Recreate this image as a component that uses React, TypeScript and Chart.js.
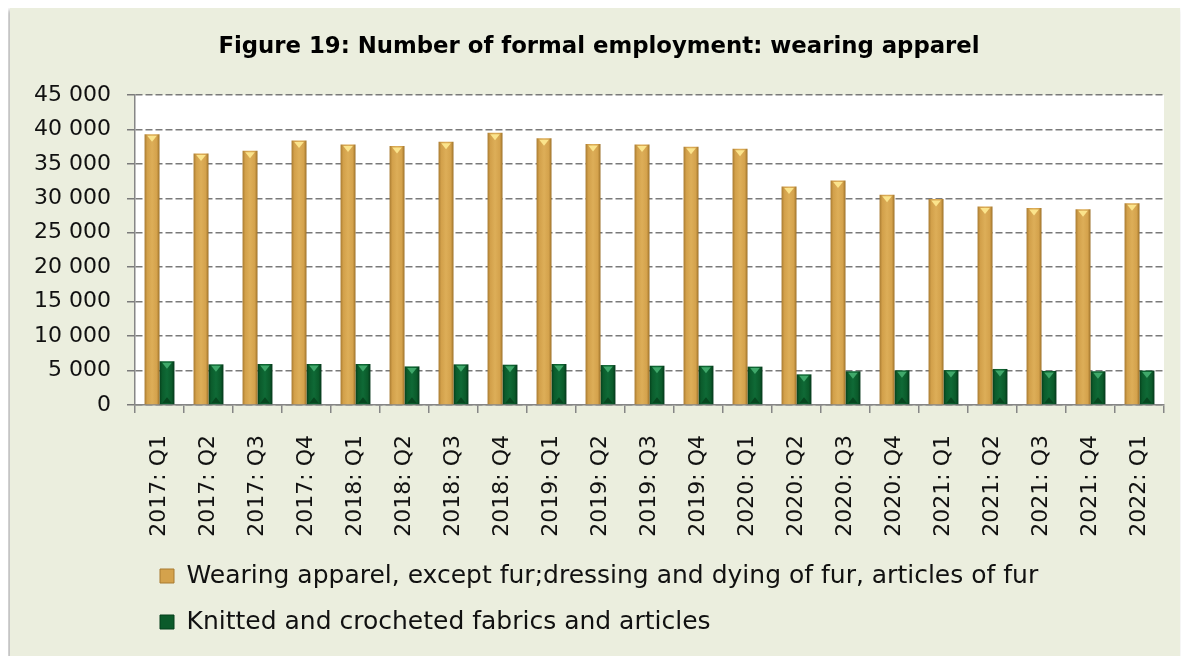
import React, { useEffect, useRef } from "react";
import { Chart, registerables } from "chart.js";

Chart.register(...registerables);

const categories = [
  "2017: Q1", "2017: Q2", "2017: Q3", "2017: Q4",
  "2018: Q1", "2018: Q2", "2018: Q3", "2018: Q4",
  "2019: Q1", "2019: Q2", "2019: Q3", "2019: Q4",
  "2020: Q1", "2020: Q2", "2020: Q3", "2020: Q4",
  "2021: Q1", "2021: Q2", "2021: Q3", "2021: Q4",
  "2022: Q1",
];

const wearingApparel = [
  39300, 36500, 36900, 38400, 37800, 37600, 38200, 39500, 38700, 37900, 37800,
  37500, 37200, 31700, 32600, 30500, 29900, 28800, 28600, 28400, 29300,
];

const knittedFabrics = [
  6350, 5900, 5950, 5950, 5950, 5600, 5900, 5850, 5950, 5800, 5700, 5700, 5570,
  4450, 4900, 5030, 5070, 5230, 4940, 4900, 5000,
];

const seriesLabels = [
  "Wearing apparel, except fur;dressing and dying of fur, articles of fur",
  "Knitted and crocheted fabrics and articles",
];

const yMin = 0;
const yMax = 45000;
const yStep = 5000;

const FONT = "'DejaVu Sans', sans-serif";
const CAT_PCT = 0.61;
const flatColors = ["#D4A24C", "#0B5A2A"];
const gradientStops = [
  ["#A87A30", "#D2A04A", "#DDAE58", "#D4A24C", "#9C7028"],
  ["#053E1A", "#0B5C2C", "#0F6A36", "#0B5A2A", "#04361A"],
];
const topTriangleColors = ["#FBE48C", "#3FA86A"];
const bottomTriangleColors = [null, "#07461F"];

function barFill(kind: number) {
  return (ctx: any) => {
    const chart = ctx.chart;
    const xs = chart.scales && chart.scales.x;
    if (!xs || ctx.type !== "data" || !chart.chartArea) return flatColors[kind];
    const center = xs.getPixelForValue(ctx.dataIndex);
    const cat = xs.width / categories.length;
    const w = (cat * CAT_PCT) / 2;
    const x0 = kind === 0 ? center - w : center;
    const g = chart.ctx.createLinearGradient(x0, 0, x0 + w, 0);
    const s = gradientStops[kind];
    g.addColorStop(0, s[0]);
    g.addColorStop(0.18, s[1]);
    g.addColorStop(0.5, s[2]);
    g.addColorStop(0.82, s[3]);
    g.addColorStop(1, s[4]);
    return g;
  };
}

const formatThousands = (v: number) =>
  String(v).replace(/\B(?=(\d{3})+(?!\d))/g, " ");

const layoutPlugin = {
  id: "layoutTweaks",
  beforeDraw(chart: any) {
    const { ctx, chartArea } = chart;
    ctx.save();
    ctx.fillStyle = "#FFFFFF";
    ctx.fillRect(
      chartArea.left,
      chartArea.top,
      chartArea.right - chartArea.left,
      chartArea.bottom - chartArea.top
    );
    ctx.restore();
    if (chart.legend) chart.legend.left = 129;
    if (chart.titleBlock) chart.titleBlock.left = 24;
  },
  afterDatasetsDraw(chart: any) {
    const { ctx } = chart;
    ctx.save();
    chart.data.datasets.forEach((_: any, di: number) => {
      const meta = chart.getDatasetMeta(di);
      meta.data.forEach((bar: any) => {
        const { x, y, base, width } = bar.getProps(["x", "y", "base", "width"], true);
        const half = width * 0.32;
        const h = Math.min(6, (base - y) / 2);
        ctx.fillStyle = topTriangleColors[di];
        ctx.beginPath();
        ctx.moveTo(x - half, y + 1.5);
        ctx.lineTo(x + half, y + 1.5);
        ctx.lineTo(x, y + 1.5 + h);
        ctx.closePath();
        ctx.fill();
        const bc = bottomTriangleColors[di];
        if (bc) {
          ctx.fillStyle = bc;
          ctx.beginPath();
          ctx.moveTo(x - half, base - 1);
          ctx.lineTo(x + half, base - 1);
          ctx.lineTo(x, base - 1 - h);
          ctx.closePath();
          ctx.fill();
        }
      });
    });
    ctx.restore();
  },
};

export default function App() {
  const canvasRef = useRef<HTMLCanvasElement | null>(null);

  useEffect(() => {
    if (!canvasRef.current) return;
    const chart = new Chart(canvasRef.current, {
      type: "bar",
      data: {
        labels: categories,
        datasets: [
          {
            label: seriesLabels[0],
            data: wearingApparel,
            backgroundColor: barFill(0),
            borderWidth: 0,
            categoryPercentage: CAT_PCT,
            barPercentage: 1,
          },
          {
            label: seriesLabels[1],
            data: knittedFabrics,
            backgroundColor: barFill(1),
            borderWidth: 0,
            categoryPercentage: CAT_PCT,
            barPercentage: 1,
          },
        ],
      },
      options: {
        animation: false,
        responsive: false,
        maintainAspectRatio: false,
        layout: { padding: { left: 0, right: 16, top: 0, bottom: 12.5 } },
        plugins: {
          title: {
            display: true,
            text: "Figure 19: Number of formal employment: wearing apparel",
            color: "#000000",
            font: { family: FONT, size: 22.8, weight: "bold" },
            padding: { top: 25.3, bottom: 34.3 },
          },
          legend: {
            position: "bottom",
            align: "start",
            labels: {
              color: "#111111",
              font: { family: FONT, size: 25 },
              boxWidth: 14,
              boxHeight: 14,
              padding: 21,
              generateLabels: (c: any) => {
                const items = (Chart.defaults.plugins.legend.labels as any).generateLabels(c);
                return items.map((it: any, i: number) => ({
                  ...it,
                  fillStyle: flatColors[i],
                  strokeStyle: i === 0 ? "#A87A30" : "#053E1A",
                  lineWidth: 1,
                }));
              },
            },
          },
          tooltip: { enabled: false },
        },
        scales: {
          x: {
            grid: {
              drawOnChartArea: false,
              drawTicks: true,
              tickLength: 8,
              color: "#868686",
              lineWidth: 1.5,
            },
            border: { color: "#868686", width: 1.5 },
            ticks: {
              autoSkip: false,
              maxRotation: 90,
              minRotation: 90,
              padding: 22,
              color: "#111111",
              font: { family: FONT, size: 22 },
            },
            afterFit: (scale: any) => {
              scale.height = 137.5;
              scale.paddingRight = 0;
              scale.paddingLeft = 0;
            },
          },
          y: {
            min: yMin,
            max: yMax,
            ticks: {
              stepSize: yStep,
              padding: 16,
              color: "#111111",
              font: { family: FONT, size: 22 },
              callback: (v: any) => formatThousands(Number(v)),
            },
            grid: {
              color: "#7A7A7A",
              lineWidth: 1.5,
              tickLength: 8,
              tickColor: "#7A7A7A",
              tickBorderDash: [7, 3],
            },
            border: { color: "#868686", width: 1.5, dash: [7, 3] },
            afterFit: (scale: any) => {
              scale.width = 125;
            },
          },
        },
      },
      plugins: [layoutPlugin],
    });
    return () => chart.destroy();
  }, []);

  return (
    <div
      style={{
        marginLeft: 2,
        width: 1170,
        height: 649,
        background: "#EBEEDE",
        boxShadow: "-2px 2px 4px rgba(0,0,0,0.3)",
      }}
    >
      <canvas ref={canvasRef} width={1170} height={649} style={{ display: "block" }} />
    </div>
  );
}
